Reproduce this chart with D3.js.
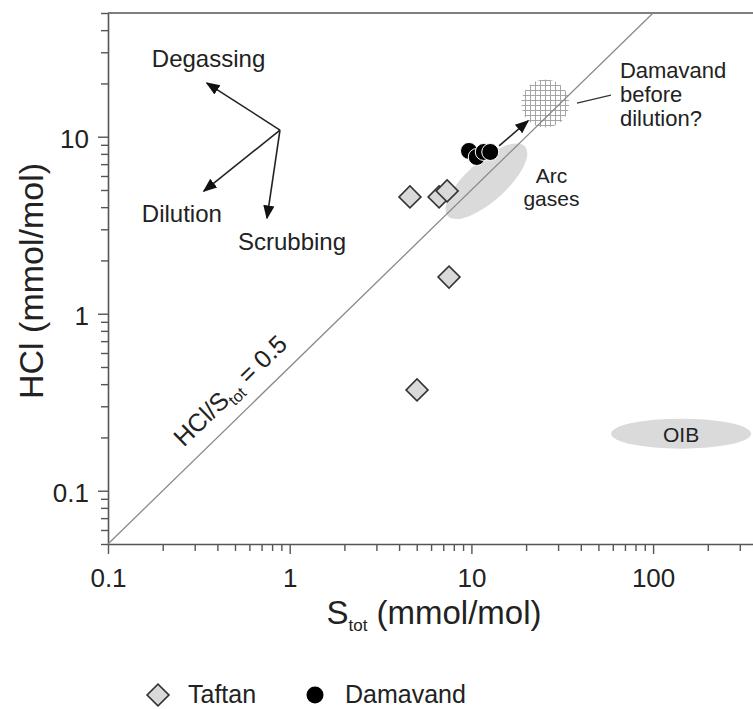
<!DOCTYPE html>
<html><head><meta charset="utf-8">
<script src="https://cdn.jsdelivr.net/npm/d3@7"></script>
<style>
body{margin:0;background:#fff}
svg{display:block}
text{font-family:"Liberation Sans",Arial,Helvetica,sans-serif;fill:#222}
</style>
</head><body>
<svg id="c" width="753" height="709"></svg>
<script>
// ---------------- data ----------------
const taftanS   = [4.59, 6.64, 7.35, 7.53, 5.02];
const taftanHCl = [4.57, 4.57, 4.94, 1.61, 0.371];
const damavandS   = [9.70, 10.7, 11.7, 12.7];
const damavandHCl = [8.31, 7.68, 8.20, 8.20];
const xTickLabels = ["0.1", "1", "10", "100"];
const yTickLabels = ["0.1", "1", "10"];
const ratioValue = 0.5;
const ratioLineS = [0.1, 100];
// field regions (centre in data units)
const arcCenter = [12.1, 5.6];
const oibCenter = [142.6, 0.21];
const beforeDilutionCenter = [25.5, 15.4];
// Damavand shift arrow (from -> to)
const shiftFrom = [14.2, 8.87];
const shiftTo   = [20.5, 12.3];
const leaderFrom = [38.1, 15.5];
const leaderTo   = [58.6, 17.2];
// process arrows
const processNames = ["Degassing", "Dilution", "Scrubbing"];
const processOrigin = [0.884, 10.9];
const processTipS   = [0.35, 0.337, 0.75];
const processTipHCl = [20.1, 4.93, 3.47];
const legendNames = ["Taftan", "Damavand"];

// ---------------- scales ----------------
const svg = d3.select("#c");
const x = d3.scaleLog().domain([0.1, 1000]).range([108, 108 + 4 * 181.7]);
const y = d3.scaleLog().domain([0.05, 50]).range([544, 13]);
const axisColor = "#555";

// defs
const defs = svg.append("defs");
const pat = defs.append("pattern").attr("id", "grid")
  .attr("patternUnits", "userSpaceOnUse").attr("width", 5).attr("height", 5);
pat.append("path").attr("d", "M0 0.5H5M0.5 0V5").attr("stroke", "#a5a5a5").attr("stroke-width", 1).attr("fill", "none");
const mk = defs.append("marker").attr("id", "ah").attr("viewBox", "0 0 10 10")
  .attr("refX", 9).attr("refY", 5).attr("markerWidth", 14).attr("markerHeight", 14)
  .attr("markerUnits", "userSpaceOnUse").attr("orient", "auto");
mk.append("path").attr("d", "M0,1 L10,5 L0,9 Z").attr("fill", "#111");

// ---------------- regions ----------------
const angle = Math.atan2(y(50) - y(0.05), x(100) - x(0.1)) * 180 / Math.PI;
svg.append("ellipse")
  .attr("transform", `translate(${x(arcCenter[0])},${y(arcCenter[1])}) rotate(-42)`)
  .attr("rx", 52).attr("ry", 20).attr("fill", "#dadada");
svg.append("ellipse")
  .attr("cx", x(oibCenter[0])).attr("cy", y(oibCenter[1]))
  .attr("rx", 70).attr("ry", 15).attr("fill", "#dadada");
svg.append("circle")
  .attr("cx", x(beforeDilutionCenter[0])).attr("cy", y(beforeDilutionCenter[1]))
  .attr("r", 24).attr("fill", "url(#grid)");

// ---------------- axes ----------------
function logTicks(lo, hi) {
  const t = [];
  for (let e = -2; e <= 3; e++) for (let m = 1; m <= 9; m++) {
    const v = m * Math.pow(10, e);
    if (v >= lo * 0.999 && v <= hi * 1.001) t.push(+v.toPrecision(3));
  }
  return t;
}
const isMajor = v => Math.abs(Math.log10(v) - Math.round(Math.log10(v))) < 1e-6;
const labelOf = (arr) => v => { const s = arr.find(l => Math.abs(+l - v) < 1e-9); return s || ""; };

const gx = svg.append("g").attr("transform", "translate(0,544)")
  .call(d3.axisBottom(x).tickValues(logTicks(0.1, 1000)).tickSizeOuter(0).tickFormat(labelOf(xTickLabels)));
gx.select(".domain").attr("stroke", axisColor).attr("stroke-width", 1.6);
gx.selectAll(".tick line").attr("stroke", axisColor).attr("stroke-width", 1.4)
  .attr("y2", d => isMajor(d) ? 10 : 7);
gx.selectAll(".tick text").attr("y", 25).attr("dy", "0.71em")
  .style("font-size", "26px").attr("fill", "#222");

const gy = svg.append("g").attr("transform", "translate(108,0)")
  .call(d3.axisLeft(y).tickValues(logTicks(0.05, 50)).tickSizeOuter(0).tickFormat(labelOf(yTickLabels)));
gy.select(".domain").attr("stroke", axisColor).attr("stroke-width", 1.6);
gy.selectAll(".tick line").attr("stroke", axisColor).attr("stroke-width", 1.4)
  .attr("x2", d => isMajor(d) ? -10 : -7);
gy.selectAll(".tick text").attr("x", -19).attr("dy", "0.42em")
  .style("font-size", "26px").attr("fill", "#222");

// top border
svg.append("line").attr("x1", x(0.1)).attr("x2", x(1000)).attr("y1", y(50)).attr("y2", y(50))
  .attr("stroke", axisColor).attr("stroke-width", 1.6);

// axis titles
const xt = svg.append("text").attr("x", 434).attr("y", 624).attr("text-anchor", "middle")
  .style("font-size", "33px");
xt.append("tspan").text("S");
xt.append("tspan").text("tot").style("font-size", "17px").attr("dy", 7);
xt.append("tspan").text(" (mmol/mol)").attr("dy", -7);

svg.append("text").attr("transform", "translate(43,281) rotate(-90)")
  .attr("text-anchor", "middle").style("font-size", "34px").text("HCl (mmol/mol)");

// ---------------- ratio line ----------------
svg.append("path")
  .datum(ratioLineS.map(s => [s, s * ratioValue]))
  .attr("d", d3.line().x(d => x(d[0])).y(d => y(d[1])))
  .attr("stroke", "#8a8a8a").attr("stroke-width", 1.3).attr("fill", "none");
const lblS = 0.585;
const rl = svg.append("text")
  .attr("transform", `translate(${x(lblS)},${y(lblS * ratioValue)}) rotate(${angle})`)
  .attr("y", -16).attr("text-anchor", "middle").style("font-size", "25px");
rl.append("tspan").text("HCl/S");
rl.append("tspan").text("tot").style("font-size", "16px").attr("dy", 6);
rl.append("tspan").text(" = 0.5").attr("dy", -6);

// ---------------- region labels ----------------
const arcLbl = svg.append("text").attr("text-anchor", "middle").style("font-size", "21px");
arcLbl.append("tspan").attr("x", x(arcCenter[0]) + 65).attr("y", y(arcCenter[1]) + 2).text("Arc");
arcLbl.append("tspan").attr("x", x(arcCenter[0]) + 65).attr("y", y(arcCenter[1]) + 25).text("gases");
svg.append("text").attr("x", x(oibCenter[0])).attr("y", y(oibCenter[1]) + 8)
  .attr("text-anchor", "middle").style("font-size", "21px").text("OIB");

const dl = svg.append("text").style("font-size", "22px");
["Damavand", "before", "dilution?"].forEach((t, i) =>
  dl.append("tspan").attr("x", x(leaderTo[0]) + 9).attr("y", y(beforeDilutionCenter[1]) - 26 + i * 24).text(t));
svg.append("line").attr("x1", x(leaderFrom[0])).attr("y1", y(leaderFrom[1]))
  .attr("x2", x(leaderTo[0])).attr("y2", y(leaderTo[1])).attr("stroke", "#333").attr("stroke-width", 1.3);

// ---------------- process arrows ----------------
const labelOffsets = [[-55, -16], [-62, 31], [-29, 32]];
processNames.forEach((n, i) => {
  svg.append("line")
    .attr("x1", x(processOrigin[0])).attr("y1", y(processOrigin[1]))
    .attr("x2", x(processTipS[i])).attr("y2", y(processTipHCl[i]))
    .attr("stroke", "#222").attr("stroke-width", 1.6).attr("marker-end", "url(#ah)");
  svg.append("text").attr("x", x(processTipS[i]) + labelOffsets[i][0])
    .attr("y", y(processTipHCl[i]) + labelOffsets[i][1])
    .style("font-size", "24px").text(n);
});

// Damavand shift arrow
svg.append("line").attr("x1", x(shiftFrom[0])).attr("y1", y(shiftFrom[1]))
  .attr("x2", x(shiftTo[0])).attr("y2", y(shiftTo[1]))
  .attr("stroke", "#222").attr("stroke-width", 1.6).attr("marker-end", "url(#ah)");

// ---------------- points ----------------
const diamond = d3.symbol().type(d3.symbolSquare).size(15.5 * 15.5);
svg.append("g").selectAll("path").data(taftanS.map((s, i) => [s, taftanHCl[i]])).join("path")
  .attr("d", diamond)
  .attr("transform", d => `translate(${x(d[0])},${y(d[1])}) rotate(45)`)
  .attr("fill", "#d9d9d9").attr("stroke", "#333").attr("stroke-width", 1.6);
svg.append("g").selectAll("circle").data(damavandS.map((s, i) => [s, damavandHCl[i]])).join("circle")
  .attr("cx", d => x(d[0])).attr("cy", d => y(d[1])).attr("r", 8.5)
  .attr("fill", "#000").attr("stroke", "#fff").attr("stroke-width", 1);

// ---------------- legend ----------------
const lg = svg.append("g");
lg.append("path").attr("d", diamond).attr("transform", "translate(158,695) rotate(45)")
  .attr("fill", "#d9d9d9").attr("stroke", "#333").attr("stroke-width", 1.6);
lg.append("text").attr("x", 188).attr("y", 703).style("font-size", "25px").text(legendNames[0]);
lg.append("circle").attr("cx", 315).attr("cy", 695).attr("r", 8.5).attr("fill", "#000");
lg.append("text").attr("x", 345).attr("y", 703).style("font-size", "25px").text(legendNames[1]);
</script>
</body></html>
